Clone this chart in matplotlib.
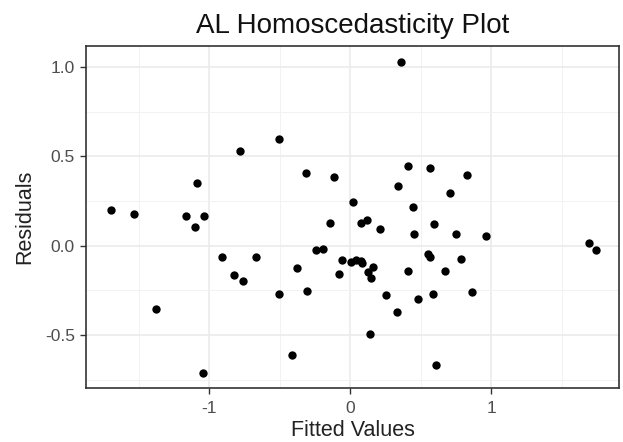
import numpy as np
import matplotlib
matplotlib.use("Agg")
import matplotlib.pyplot as plt
from matplotlib.ticker import MultipleLocator

plt.rcParams['font.family'] = ['Liberation Sans', 'DejaVu Sans']

# fitted values and residuals of the AL model
fitted = [-1.699, -1.532, -1.167, -1.101, -1.089, -1.035, -0.780, -0.503,
          -0.314, -0.113, 0.019, -0.140, 0.362, 0.407, 0.563, 0.830,
          0.340, 0.709, 0.442, 0.074, 0.118, 0.208, 0.454, 0.596,
          0.750, 0.960, 1.695, 1.740, -0.059, 0.005, 0.040, 0.076,
          0.081, 0.163, 0.128, 0.149, -0.080, 0.407, 0.551, 0.563,
          0.785, 0.674, 0.253, 0.482, 0.584, 0.863, 0.331, 0.142,
          0.608, -0.912, -0.667, -0.825, -0.759, -1.378, -0.503, -0.380,
          -0.305, -0.245, -0.191, -0.411, -1.047]
residuals = [0.198, 0.176, 0.168, 0.105, 0.349, 0.168, 0.532, 0.596,
             0.405, 0.383, 0.246, 0.128, 1.030, 0.446, 0.437, 0.398,
             0.334, 0.293, 0.215, 0.129, 0.142, 0.094, 0.065, 0.121,
             0.065, 0.056, 0.017, -0.024, -0.078, -0.093, -0.080, -0.084,
             -0.099, -0.117, -0.149, -0.179, -0.157, -0.142, -0.045, -0.063,
             -0.073, -0.142, -0.278, -0.300, -0.269, -0.261, -0.371, -0.493,
             -0.666, -0.063, -0.063, -0.166, -0.198, -0.356, -0.269, -0.127,
             -0.252, -0.024, -0.017, -0.610, -0.713]

x_ticks = [-1, 0, 1]
x_labels = ['-1', '0', '1']
y_ticks = [-0.5, 0.0, 0.5, 1.0]
y_labels = ['-0.5', '0.0', '0.5', '1.0']

fig = plt.figure(figsize=(6.23, 4.42), dpi=100)
ax = fig.add_axes([0.138, 0.122, 0.8555, 0.774])

ax.scatter(fitted, residuals, s=36, color='black', linewidths=0, zorder=3)

ax.set_xlim(-1.874, 1.906)
ax.set_ylim(-0.797, 1.118)

ax.xaxis.set_minor_locator(MultipleLocator(0.5))
ax.yaxis.set_minor_locator(MultipleLocator(0.25))
ax.set_xticks(x_ticks)
ax.set_xticklabels(x_labels)
ax.set_yticks(y_ticks)
ax.set_yticklabels(y_labels)

ax.grid(which='major', color='#EBEBEB', linewidth=1.2, zorder=0)
ax.grid(which='minor', color='#F2F2F2', linewidth=0.7, zorder=0)
ax.set_axisbelow(True)

for sp in ax.spines.values():
    sp.set_color('#333333')
    sp.set_linewidth(1.2)

ax.tick_params(which='major', length=4, width=1, color='#333333',
               labelcolor='#4D4D4D', labelsize=12.5)
ax.tick_params(axis='x', pad=5)
ax.tick_params(axis='y', pad=4)
ax.tick_params(which='minor', length=0)

ax.set_xlabel('Fitted Values', fontsize=15.5, color='#222222', labelpad=3)
ax.set_ylabel('Residuals', fontsize=15.5, color='#222222', labelpad=7)
ax.set_title('AL Homoscedasticity Plot', fontsize=20, color='#111111', pad=9)

fig.savefig('out.png', dpi=100)
